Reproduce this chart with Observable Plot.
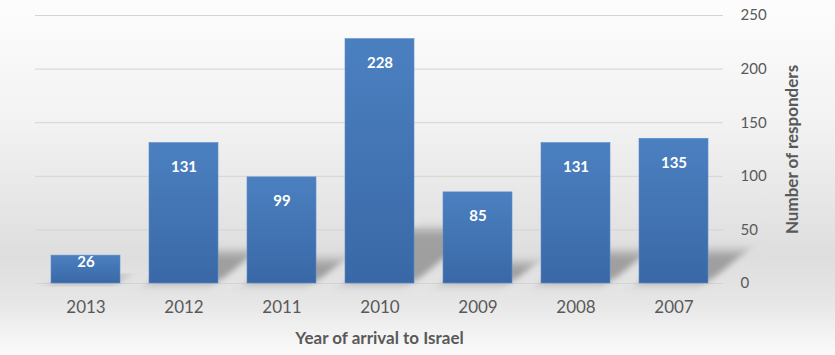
<!DOCTYPE html>
<html>
<head>
<meta charset="utf-8">
<script src="https://cdn.jsdelivr.net/npm/d3@7"></script>
<script src="https://cdn.jsdelivr.net/npm/@observablehq/plot@0.6"></script>
<style>
  html, body { margin: 0; padding: 0; background: #fafafa; }
</style>
</head>
<body>
<div id="chart"></div>
<script>
const years = ["2013", "2012", "2011", "2010", "2009", "2008", "2007"];
const responders = [26, 131, 99, 228, 85, 131, 135];
const yTicks = [0, 50, 100, 150, 200, 250];
const xTitle = "Year of arrival to Israel";
const yTitle = "Number of responders";

const data = years.map((year, i) => ({year, value: responders[i]}));

const defs = () => {
  const g = d3.create("svg:defs");
  const grad = g.append("linearGradient")
    .attr("id", "barGrad").attr("x1", 0).attr("y1", 0).attr("x2", 0).attr("y2", 1);
  grad.append("stop").attr("offset", "0%").attr("stop-color", "#4b80c0");
  grad.append("stop").attr("offset", "100%").attr("stop-color", "#3a68a6");
  g.append("filter").attr("id", "shadowBlur")
    .attr("x", "-50%").attr("y", "-50%").attr("width", "200%").attr("height", "200%")
    .append("feGaussianBlur").attr("stdDeviation", 5);
  return g.node();
};

const chart = Plot.plot({
  width: 835,
  height: 355,
  marginLeft: 35,
  marginRight: 112,
  marginTop: 15,
  marginBottom: 72,
  style: {
    background: "linear-gradient(to bottom, #fdfdfd 0%, #f2f2f2 35%, #dedede 72%, #e6e6e6 85%, #fbfbfb 100%)",
    fontFamily: "Lato, sans-serif",
    color: "#595959"
  },
  x: {domain: years, paddingInner: 0.3, paddingOuter: 0.15, label: null},
  y: {domain: [0, 250], label: null},
  marks: [
    defs,
    Plot.gridY(yTicks, {stroke: "#d4d4d4", strokeOpacity: 1, strokeWidth: 1}),
    // perspective shadow behind the bars
    Plot.barY(data, {x: "year", y: d => d.value * 0.22, fill: "#6a6a6a", fillOpacity: 0.55}),
    Plot.barY(data, {x: "year", y: "value", fill: "url(#barGrad)", stroke: "#5a8ccb", strokeWidth: 0.6}),
    Plot.text(data.filter(d => d.value >= 50), {x: "year", y: "value", text: d => String(d.value), dy: 24, fill: "white", fontWeight: "bold", fontSize: 15}),
    Plot.text(data.filter(d => d.value < 50), {x: "year", y: "value", text: d => String(d.value), dy: 7, fill: "white", fontWeight: "bold", fontSize: 15}),
    Plot.axisX({tickSize: 0, tickPadding: 17, fontSize: 17, fill: "#595959", label: xTitle, labelAnchor: "center", labelOffset: 60, labelArrow: "none"}),
    Plot.axisY({anchor: "right", ticks: yTicks, tickSize: 0, tickPadding: 17, fontSize: 15, fill: "#595959", label: yTitle, labelAnchor: "center", labelOffset: 74, labelArrow: "none"})
  ]
});

// style axis titles bold, strip any arrow
d3.select(chart).selectAll("[aria-label='x-axis label'] text, [aria-label='y-axis label'] text")
  .attr("font-weight", "bold").attr("font-size", 17)
  .text(function() { return this.textContent.replace(/\s*[↑→←↓]\s*/g, ""); });

// skew the first bar group (the shadow) so it falls diagonally behind each bar
const base = 355 - 72;
const shadowGroup = chart.querySelector("g[aria-label='bar']");
d3.select(shadowGroup).selectAll("rect")
  .attr("filter", "url(#shadowBlur)")
  .attr("transform", `translate(0,${base}) skewX(-50) translate(0,${-base})`);

document.getElementById("chart").appendChild(chart);
</script>
</body>
</html>
